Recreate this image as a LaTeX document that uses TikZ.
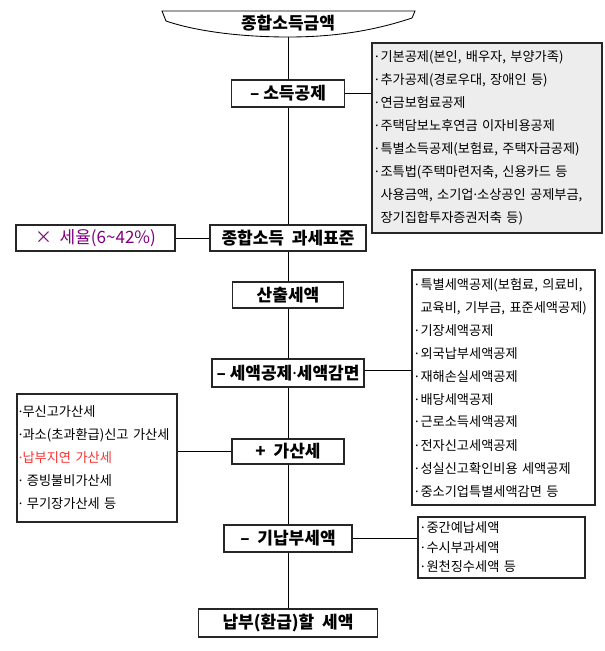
\documentclass[tikz,border=0pt]{standalone}
\usepackage{fontspec}
\newfontfamily\kr{Noto Sans CJK KR}
\newfontfamily\dotfont{Noto Sans}
\usetikzlibrary{calc}
\definecolor{ratepurple}{RGB}{128,0,128}
\definecolor{latered}{RGB}{250,50,50}
\newcommand\md{{\dotfont ·}}
\newcommand\li{{\dotfont ·}\kern2pt}
\tikzset{
	stepbox/.style={draw=black!85, line width=0.7mm, fill=white, inner sep=0, minimum height=26, font=\kr\bfseries\fontsize{17}{19}\selectfont},
	listbox/.style={draw=black!85, line width=0.6mm, fill=white, align=left, inner sep=0, font=\kr\fontsize{13.2}{23}\selectfont},
	link/.style={line width=0.3mm},
}

\begin{document}
\begin{tikzpicture}[x=1pt, y=-1pt]
			%%%%% START %%%%%
			\useasboundingbox (0, 0) rectangle (605, 651);
			
			\draw[line width=0.3mm, fill=white] (162, 11) -- (415, 11) -- (412, 18) .. controls (370, 32) and (330, 37) .. (288, 37) .. controls (240, 37) and (195, 31) .. (166, 21) -- cycle;
			\node[font=\kr\bfseries\fontsize{17}{19}\selectfont] (total) at (288, 23) {종합소득금액};
			\coordinate (totbot) at (288, 37);
			
			\node[stepbox, minimum width=113, minimum height=27] (ded) at (288, 93.5) {– 소득공제};
			\node[stepbox, minimum width=156] (base) at (288, 238) {종합소득\ \ 과세표준};
			\node[stepbox, minimum width=111] (calc) at (288, 295) {산출세액};
			\node[stepbox, minimum width=152, minimum height=28] (cred) at (288, 373) {– 세액공제\md 세액감면};
			\node[stepbox, minimum width=112, minimum height=25] (add) at (288, 451.5) {+\ \ 가산세};
			\node[stepbox, minimum width=128, minimum height=27] (prep) at (288, 538.5) {–\ \ 기납부세액};
			\node[stepbox, minimum width=179, minimum height=28] (pay) at (288, 623) {납부(환급)할\ \ 세액};
			
			\node[stepbox, minimum width=159, font=\kr\fontsize{17}{19}\selectfont, text=ratepurple] (rate) at (95.5, 238) {×\ \ 세율(6\textasciitilde42\%)};
			
			\node[listbox, fill=black!7, minimum width=230, minimum height=190, text width=224] (dedlist) at (487, 138) {\li 기본공제(본인, 배우자, 부양가족)\\\li 추가공제(경로우대, 장애인 등)\\\li 연금보험료공제\\\li 주택담보노후연금 이자비용공제\\\li 특별소득공제(보험료, 주택자금공제)\\\li 조특법(주택마련저축, 신용카드 등\\\phantom{\li}사용금액, 소기업\md 소상공인 공제부금,\\\phantom{\li}장기집합투자증권저축 등)};
			
			\node[listbox, minimum width=183, minimum height=235, text width=177] (credlist) at (503.5, 387.5) {\li 특별세액공제(보험료, 의료비,\\\phantom{\li}교육비, 기부금, 표준세액공제)\\\li 기장세액공제\\\li 외국납부세액공제\\\li 재해손실세액공제\\\li 배당세액공제\\\li 근로소득세액공제\\\li 전자신고세액공제\\\li 성실신고확인비용 세액공제\\\li 중소기업특별세액감면 등};
			
			\node[listbox, minimum width=160, minimum height=128, text width=156] (addlist) at (97, 458) {\md 무신고가산세\\\md 과소(초과환급)신고 가산세\\{\color{latered}\md 납부지연 가산세}\\\md\ 증빙불비가산세\\\md\ 무기장가산세 등};
			
			\node[listbox, minimum width=167, minimum height=61, text width=161, font=\kr\fontsize{13.2}{19.5}\selectfont] (preplist) at (501.5, 547.5) {\li 중간예납세액\\\li 수시부과세액\\\li 원천징수세액 등};
			
			\draw[link] (totbot) -- (ded.north);
			\draw[link] (ded.south) -- (base.north);
			\draw[link] (base.south) -- (calc.north);
			\draw[link] (calc.south) -- (cred.north);
			\draw[link] (cred.south) -- (add.north);
			\draw[link] (add.south) -- (prep.north);
			\draw[link] (prep.south) -- (pay.north);
			
			\draw[link] (ded.east) -- (ded.east -| dedlist.west);
			\draw[link] (rate.east) -- (base.west);
			\draw[link] ($(cred.east)+(0,-3)$) -- ($(cred.east -| credlist.west)+(0,-3)$);
			\draw[link] (add.west) -- (add.west -| addlist.east);
			\draw[link] (prep.east) -- (prep.east -| preplist.west);
			
			%%%%% END %%%%%
\end{tikzpicture}
\end{document}
